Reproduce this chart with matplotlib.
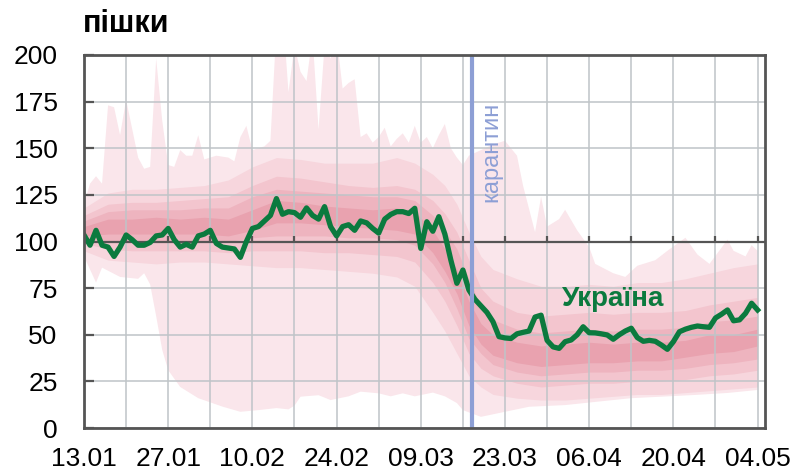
import numpy as np
import pandas as pd
import matplotlib
matplotlib.use("Agg")
import matplotlib.pyplot as plt

plt.rcParams['font.family'] = ['Liberation Sans', 'DejaVu Sans']

# --- data (index 0 = 13.01.2020, daily) ---
start_date = "2020-01-13"
ukraine = [103.5, 98, 106, 98, 97, 92, 97, 103.5, 101, 98, 98, 99.5, 103, 103.5,
           107, 101, 97, 98.5, 97, 103, 104, 106, 99, 97, 96.5, 96, 91.5, 100,
           107, 108, 111, 114, 123, 114.6, 116, 115.5, 113, 118, 114, 112, 118.7,
           108, 103, 108, 109, 106, 111, 110, 107, 104.5, 112, 114.5, 116, 116,
           115, 117.8, 96.3, 110.6, 105.5, 113.3, 104, 90, 77.6, 84.7, 74, 69,
           65.5, 62, 57, 49, 48.3, 48, 50.5, 51.3, 52, 59.5, 60.5, 47, 43.5, 42.7,
           46.3, 47.2, 50, 54.3, 51.1, 51, 50.5, 49.9, 47.6, 50, 52, 53.5, 48.5,
           46.5, 47, 46.5, 44.5, 42.2, 46.3, 51.6, 53, 54, 54.7, 54.3, 54, 59, 61,
           63.3, 57.5, 58, 61.5, 66.9, 63.3]

# other countries: spread of values (outer = min / max)
max_days = [0, 1, 2, 3, 4, 5, 6, 7, 9, 10, 11, 12, 13, 14, 15, 16, 17, 18, 19, 20,
            22, 24, 25, 26, 27, 28, 30, 31, 32, 33, 34, 35, 36, 37, 38, 39, 40, 41,
            42, 43, 44, 45, 46, 47, 48, 49, 50, 51, 52, 53, 54, 55, 56, 57, 58, 59,
            60, 61, 62, 63, 64, 66, 68, 70, 72, 73, 75, 76, 77, 79, 80, 82, 84, 85,
            88, 90, 92, 95, 97, 100, 102, 104, 107, 108, 110, 111, 112]
max_vals = [120, 131, 135, 131, 173, 172, 157, 176, 145, 139, 140, 198, 165, 141,
            140, 149, 146, 146, 157, 144, 146, 145, 143, 156, 162, 149, 151, 154,
            215, 225, 180, 205, 191, 186, 210, 160, 205, 198, 210, 182, 185, 187,
            156, 158, 153, 156, 161, 151, 155, 158, 153, 162, 153, 156, 150, 157,
            163, 150, 145, 141, 146, 149, 152, 154, 146, 130, 105, 124, 108, 112,
            117, 106, 97, 88, 83, 81, 87, 90, 95, 102, 93, 88, 101, 95, 92, 98, 95]
min_days = [0, 2, 3, 6, 9, 10, 11, 12, 13, 14, 16, 19, 23, 26, 29, 32, 34, 35, 36,
            39, 41, 44, 46, 49, 51, 53, 55, 58, 60, 62, 63, 66, 70, 74, 80, 85, 91,
            96, 102, 107, 112]
min_vals = [92, 78, 86, 81, 80, 83, 77, 60, 42, 31, 22, 16, 11.5, 8.7, 9.6, 10.7,
            10, 12, 16.8, 17.6, 15, 17, 19.5, 18.6, 17, 18.6, 17, 19, 17, 13.4, 9.6,
            6, 8.7, 11.4, 12.3, 14, 16, 16.8, 17.8, 18.8, 20.4]

band_days = [0, 4, 8, 12, 16, 20, 24, 28, 32, 36, 40, 44, 48, 52, 55, 58, 60, 62,
             64, 66, 68, 72, 76, 80, 84, 88, 92, 96, 100, 104, 108, 112]
hi1 = [118, 126, 128, 128, 129, 130, 133, 140, 145, 144, 142, 142, 142, 145, 142,
       136, 130, 120, 105, 92, 85, 80, 76, 76, 77, 76, 78, 78, 80, 83, 86, 88]
lo1 = [95, 90, 89, 88, 89, 89, 88, 87, 86, 86, 85, 84, 83, 81, 76, 62, 52, 40, 28,
       22, 18, 16, 15, 15, 16, 17, 18, 18, 19, 20, 21, 22]
hi2 = [114, 120, 121, 121, 122, 123, 124, 130, 135, 134, 132, 130, 129, 130, 128,
       122, 115, 105, 90, 75, 68, 62, 60, 61, 62, 61, 62, 62, 63, 66, 68, 70]
lo2 = [99, 96, 95, 95, 95, 95, 94, 95, 95, 95, 94, 94, 93, 92, 89, 78, 68, 55, 40,
       32, 28, 24, 22, 23, 24, 24, 25, 25, 26, 28, 29, 31]
hi3 = [111, 116, 117, 117, 117, 118, 118, 124, 128, 127, 126, 125, 124, 124, 122,
       114, 106, 96, 80, 65, 58, 53, 51, 52, 53, 52, 53, 53, 54, 57, 58, 60]
lo3 = [101, 100, 100, 100, 100, 100, 100, 102, 103, 103, 103, 102, 102, 101, 98,
       88, 78, 64, 48, 40, 34, 30, 28, 29, 30, 30, 31, 31, 32, 34, 35, 37]
hi4 = [108, 112, 112, 113, 112, 113, 112, 117, 122, 121, 119, 118, 117, 118, 116,
       106, 96, 85, 68, 56, 50, 46, 44, 45, 46, 45, 46, 46, 47, 50, 50, 53]
lo4 = [103, 104, 104, 104, 104, 104, 103, 106, 110, 110, 109, 108, 107, 106, 104,
       94, 84, 72, 55, 45, 39, 35, 33, 34, 35, 35, 36, 36, 38, 40, 41, 44]

quarantine_day = 64.5
y_ticks = [0, 25, 50, 75, 100, 125, 150, 175, 200]

green = "#0b7a3e"
pinks = ["#fae6eb", "#f7d6dd", "#f3c5ce", "#eeb4bf", "#e9a2af"]

days = np.arange(len(ukraine))
dates = pd.date_range(start_date, periods=len(ukraine))

fig = plt.figure(figsize=(8, 4.74), dpi=100)
ax = fig.add_axes([0.105, 0.097, 0.851, 0.787])

# spread bands
ax.fill(np.concatenate([max_days, min_days[::-1]]),
        np.concatenate([max_vals, min_vals[::-1]]),
        color=pinks[0], lw=0, zorder=1)
for k, (lo, hi) in enumerate([(lo1, hi1), (lo2, hi2), (lo3, hi3), (lo4, hi4)]):
    ax.fill_between(band_days, lo, hi, color=pinks[k + 1], lw=0, zorder=1.1 + k * 0.1)

ax.axhline(100, color="#555555", lw=1.6, zorder=2.6)
week_days = np.arange(7, days[-1] + 1, 7)
ax.vlines(week_days, 100, 102.8, color="#555555", lw=1.6, zorder=2.6)

ax.plot(days, ukraine, color=green, lw=3.8, zorder=3)
ax.axvline(quarantine_day, color="#8d9fd5", lw=3, zorder=4)

ax.text(67.8, 148, "карантин", rotation=90, color="#8d9fd5", fontsize=17,
        ha="center", va="center", zorder=5)
ax.text(88, 69, "Україна", color=green, fontsize=20, fontweight="bold",
        ha="center", va="center", zorder=5)

ax.set_xlim(0, 113.2)
ax.set_ylim(0, 200)
ax.set_yticks(y_ticks)
ax.set_xticks(days[::14])
ax.set_xticklabels([d.strftime("%d.%m") for d in dates[::14]])
ax.set_xticks(week_days[::2], minor=True)

ax.set_axisbelow(False)
ax.grid(True, which="both", axis="x", color="#bfc4c8", lw=1.1, zorder=2)
ax.grid(True, which="major", axis="y", color="#bfc4c8", lw=1.1, zorder=2)

ax.tick_params(axis="y", direction="in", length=7, width=1.6, color="#555555",
               labelsize=19, pad=19)
ax.tick_params(axis="x", which="both", length=0, labelsize=19, pad=14)
for s in ax.spines.values():
    s.set_color("#555555")
    s.set_linewidth(2)
    s.set_zorder(6)

fig.text(0.104, 0.95, "пішки", fontsize=22, fontweight="bold", ha="left", va="center")

fig.savefig("out.png", dpi=100)
